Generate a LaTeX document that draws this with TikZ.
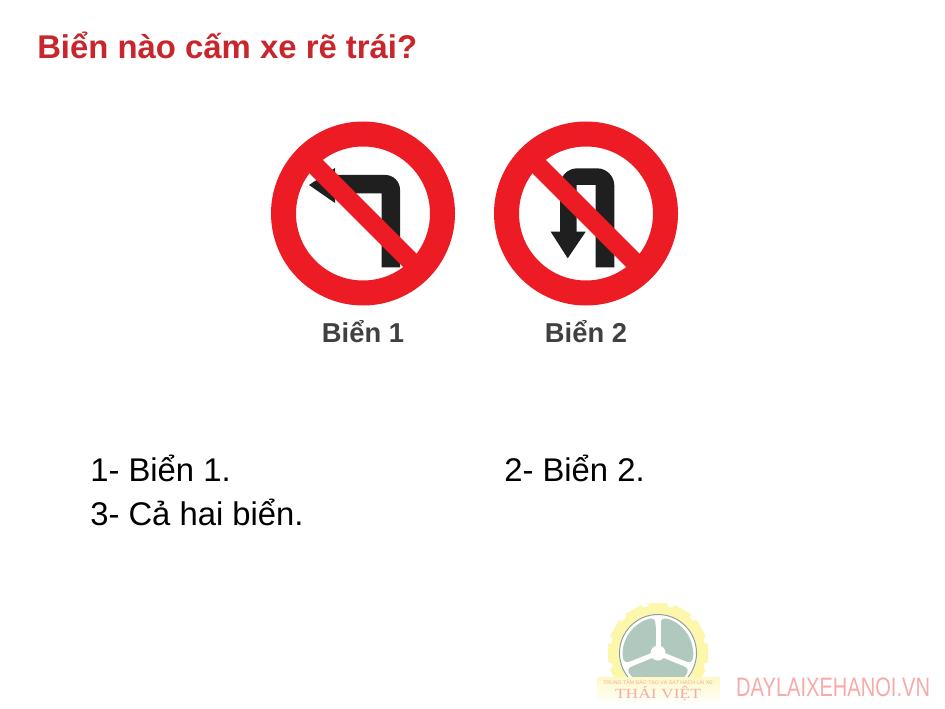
\documentclass[tikz,border=0pt]{standalone}
\usepackage{fontspec}
\setmainfont{Liberation Sans}
\newfontfamily\logoserif{Liberation Serif}
\definecolor{signred}{RGB}{237,28,36}
\definecolor{titlered}{RGB}{200,38,44}
\definecolor{gearyellow}{RGB}{252,247,170}
\definecolor{wheelgrey}{RGB}{176,200,190}
\definecolor{logopink}{RGB}{246,170,170}
\tikzset{
  signring/.style={draw=signred,line width=18.75pt,fill=white},
  signbar/.style={draw=signred,line width=14.25pt},
  signarrow/.style={fill=black!88,draw=none},
  signlabel/.style={inner sep=0pt,text=black!75,font=\fontsize{20.5}{24}\bfseries\selectfont},
  answer/.style={anchor=base west,inner sep=0pt,font=\fontsize{24.6}{28}\selectfont},
}
\begin{document}
\begin{tikzpicture}[x=0.75pt,y=0.75pt,yscale=-1,xscale=1]
\useasboundingbox (0,0) rectangle (945,709);

% Title
\node (title) [anchor=base west,inner sep=0pt,text=titlered,font=\fontsize{24.65}{28}\bfseries\selectfont] at (37,59) {Biển nào cấm xe rẽ trái?};

% Sign 1
\draw [signring] (363,213.5) circle [radius=79.5];
\fill [signarrow] (381.7,267.3) -- (400,267.3) [rounded corners=11pt] -- (400,175) [sharp corners] -- (335,175) -- (335,193.3) -- (381.7,193.3) -- cycle;
\fill [signarrow] (309,185) -- (335,168) -- (335,203) -- cycle;
\draw [signbar] (312,162.5) -- (414,264.5);
\node (sign1) [signlabel] at (363,332) {Biển 1};

% Sign 2
\draw [signring] (586,213.5) circle [radius=79.5];
\fill [signarrow] (595.7,267.3) -- (614.3,267.3) [rounded corners=13pt] -- (614.3,168.3) -- (560,168.3) [sharp corners] -- (560,240) -- (576.7,240) -- (576.7,185) -- (595.7,185) -- cycle;
\fill [signarrow] (550.7,231.7) -- (585.7,231.7) -- (567.7,258.3) -- cycle;
\draw [signbar] (535,162.5) -- (637,264.5);
\node (sign2) [signlabel] at (586,332) {Biển 2};

% Answers
\node (ans1) [answer] at (90,481) {1- Biển 1.};
\node (ans2) [answer] at (504,481) {2- Biển 2.};
\node (ans3) [answer] at (90,525) {3- Cả hai biển.};

% Logo
\coordinate (hub) at (658,653);
\foreach \a in {0,30,...,330}
  \fill [gearyellow,rotate around={\a:(hub)}] (649,603) -- (667,603) -- (671,614) -- (645,614) -- cycle;
\draw [gearyellow,line width=6.75pt] (hub) circle [radius=43];
\fill [white] (hub) circle [radius=39];
\draw [wheelgrey!80!black,line width=0.75pt] (hub) circle [radius=38.5];
\foreach \a/\b in {-90/22,22/158,158/270}
  \fill [wheelgrey,rounded corners=3pt] (hub) -- ++(\a+5:35) arc [start angle=\a+5,end angle=\b-5,radius=35] -- cycle;
\foreach \a in {-90,22,158}
  \draw [white,line width=3.75pt] (hub) -- ++(\a:36);
\fill [white] (hub) circle [radius=7.5];
\shade [top color=gearyellow!70,bottom color=white] (597,677) rectangle (720,704);
\node (logosub) [inner sep=0pt,text=logopink,font=\fontsize{3.9}{5}\selectfont] at (658,682.5) {TRUNG TÂM ĐÀO TẠO VÀ SÁT HẠCH LÁI XE};
\node (logoname) [inner sep=0pt,text=logopink,xscale=1.25,font=\fontsize{10.5}{12}\logoserif\selectfont] at (658,694) {THÁI VIỆT};
\node (site) [anchor=base west,inner sep=0pt,text=logopink,xscale=0.753,font=\fontsize{20}{24}\selectfont] at (736,696) {DAYLAIXEHANOI.VN};

\end{tikzpicture}
\end{document}
